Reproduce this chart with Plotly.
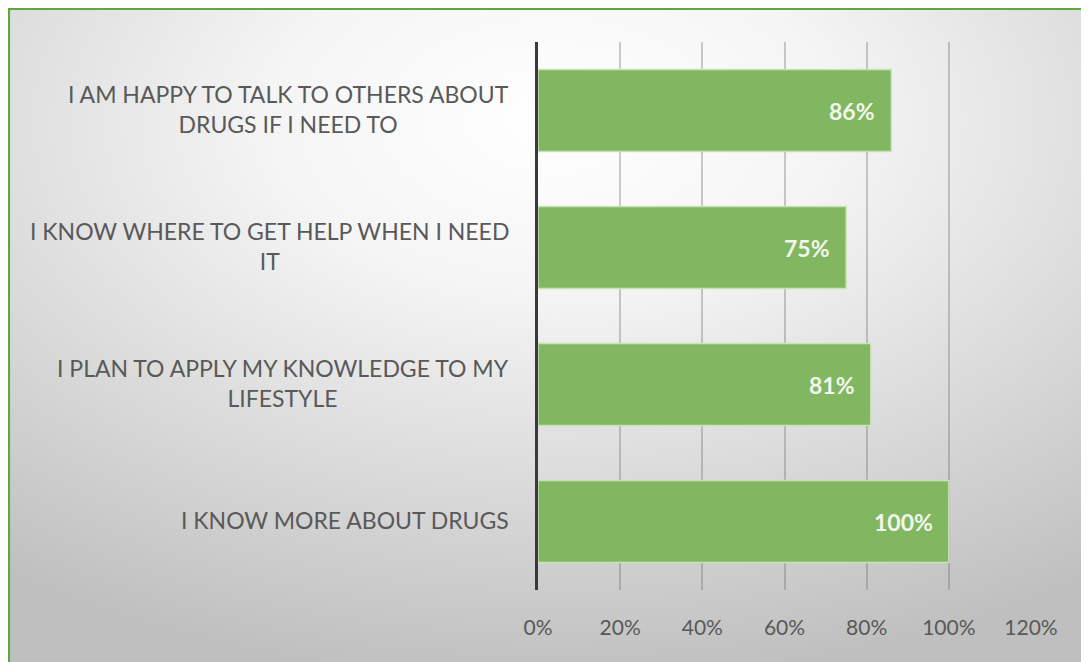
import base64
import plotly.graph_objects as go

# ---- data (top-to-bottom display order) ----
categories = [
    "I AM HAPPY TO TALK TO OTHERS ABOUT<br>DRUGS IF I NEED TO",
    "I KNOW WHERE TO GET HELP WHEN I NEED<br>IT",
    "I PLAN TO APPLY MY KNOWLEDGE TO MY<br>LIFESTYLE",
    "I KNOW MORE ABOUT DRUGS",
]
values = [0.86, 0.75, 0.81, 1.00]
x_ticks = [0, 0.2, 0.4, 0.6, 0.8, 1.0, 1.2]

W, H = 1089, 662
# page is shown with an 8px body margin, so figure coords = page coords - 8
L, R, T, B = 530, 66, 34, 80
pw, ph = W - L - R, H - T - B

FONT = "Lato, 'Open Sans', sans-serif"
GRAY = "#595959"
GREEN = "#82b762"

# radial-gradient background as inline SVG
svg = (
    '<svg xmlns="http://www.w3.org/2000/svg" width="1089" height="662" preserveAspectRatio="none">'
    '<defs><radialGradient id="g" cx="0.5" cy="0.17" r="0.85">'
    '<stop offset="0" stop-color="#ffffff"/>'
    '<stop offset="0.3" stop-color="#f5f5f5"/>'
    '<stop offset="1" stop-color="#bfbfbf"/>'
    '</radialGradient></defs>'
    '<rect x="0" y="0" width="1089" height="662" fill="url(#g)"/></svg>'
)
src = "data:image/svg+xml;base64," + base64.b64encode(svg.encode()).decode()

fig = go.Figure()
fig.add_trace(go.Bar(
    y=categories, x=values, orientation="h",
    marker=dict(color=GREEN, line=dict(color="#c9e3b8", width=1.5)),
    width=0.6, hoverinfo="skip",
))

annotations = []
for c, v in zip(categories, values):
    annotations.append(dict(
        x=v, y=c, xref="x", yref="y", text=f"{round(v*100)}%",
        showarrow=False, xanchor="right", xshift=-14,
        font=dict(family=FONT, size=23, color="#f2f6ee", weight="bold"),
    ))
    annotations.append(dict(
        x=0, y=c, xref="paper", yref="y", text=c,
        showarrow=False, xanchor="right", xshift=-27, align="center",
        yshift=2,
        font=dict(family=FONT, size=23, color=GRAY),
    ))

fig.update_layout(
    width=W, height=H,
    margin=dict(l=L, r=R, t=T, b=B, pad=0),
    paper_bgcolor="white",
    plot_bgcolor="rgba(0,0,0,0)",
    showlegend=False,
    bargap=0.4,
    annotations=annotations,
    images=[dict(
        source=src, xref="paper", yref="paper",
        x=(0 - L) / pw, y=1 + T / ph,
        sizex=W / pw, sizey=H / ph,
        xanchor="left", yanchor="top", sizing="stretch", layer="below",
    )],
    shapes=[dict(
        type="rect", xref="paper", yref="paper",
        x0=(0.8 - L) / pw, x1=(W + 5 - L) / pw,
        y0=1 + (T - 0.8) / ph, y1=-(B + 5) / ph,
        line=dict(color="#5ea83a", width=2.5), fillcolor="rgba(0,0,0,0)",
        layer="above",
    )],
    xaxis=dict(
        range=[0, 1.2], tickvals=x_ticks, tickformat=".0%",
        showgrid=True, gridcolor="rgba(110,110,110,0.35)", gridwidth=1.5,
        zeroline=False, showline=False,
        ticks="", ticklabelstandoff=23,
        tickfont=dict(family=FONT, size=21, color=GRAY),
    ),
    yaxis=dict(
        autorange="reversed", showticklabels=False, showgrid=False,
        showline=True, linecolor="#3a3a3a", linewidth=3, zeroline=False,
    ),
)

fig.write_html("out.html")
